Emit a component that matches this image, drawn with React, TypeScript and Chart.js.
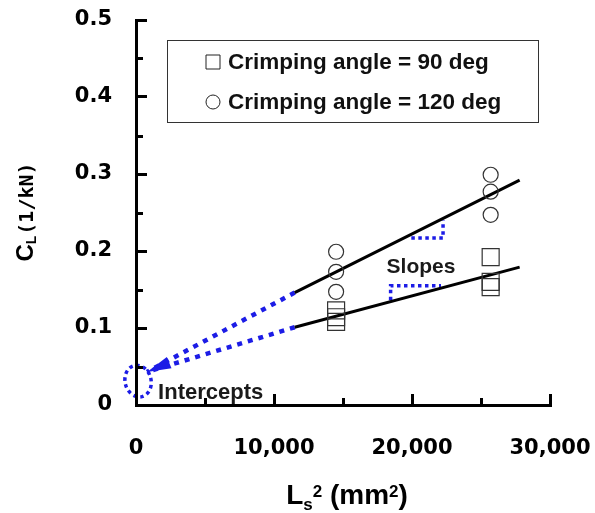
import React, { useEffect, useRef } from 'react';
import { Chart, registerables } from 'chart.js';

Chart.register(...registerables);

// ---- data ----
const seriesLabels = ['Crimping angle = 90 deg', 'Crimping angle = 120 deg'];
const angle90X = [14500, 14500, 14500, 25700, 25700, 25700];
const angle90Y = [0.123, 0.114, 0.108, 0.192, 0.160, 0.153];
const angle120X = [14500, 14500, 14500, 25700, 25700, 25700];
const angle120Y = [0.199, 0.173, 0.147, 0.299, 0.277, 0.247];

const fit90X = [11500, 27800];
const fit90Y = [0.101, 0.179];
const fit120X = [11500, 27800];
const fit120Y = [0.146, 0.292];

const extrap90X = [11500, 800];
const extrap90Y = [0.101, 0.043];
const extrap120X = [11500, 800];
const extrap120Y = [0.146, 0.043];

const slope120X = [19950, 22250, 22250];
const slope120Y = [0.217, 0.217, 0.240];
const slope90X = [18450, 18450, 22100];
const slope90Y = [0.136, 0.155, 0.155];

const interceptMarkX = [150];
const interceptMarkY = [0.031];

const noteTexts = ['Slopes', 'Intercepts'];
const noteX = [20650, 1600];
const noteY = [0.179, 0.016];

const xMin = 0, xMax = 30000, xStep = 5000, xLabelStep = 10000;
const yMin = 0, yMax = 0.5, yStep = 0.05;

const BLUE = '#1c1ce6';

const pts = (xs: number[], ys: number[]) => xs.map((x, i) => ({ x, y: ys[i] }));

const isMajorX = (v: number) => Math.round(v) % xLabelStep === 0;
const isMajorY = (v: number) => Math.round(v * 100) % 10 === 0;

const annotationPlugin = {
  id: 'annotations',
  beforeDraw(chart: any) {
    const { ctx, scales } = chart;
    const xs = scales.x, ys = scales.y;
    // dotted intercept ellipse (under axes)
    ctx.save();
    ctx.strokeStyle = BLUE;
    ctx.lineWidth = 3.5;
    ctx.setLineDash([3.5, 3.5]);
    const cx = xs.getPixelForValue(interceptMarkX[0]);
    const cy = ys.getPixelForValue(interceptMarkY[0]);
    ctx.beginPath();
    ctx.ellipse(cx, cy, 13, 16, -0.25, 0, Math.PI * 2);
    ctx.stroke();
    ctx.restore();
  },
  afterDraw(chart: any) {
    // minor inward tick marks
    const { ctx, scales } = chart;
    const xs = scales.x, ys = scales.y;
    ctx.save();
    ctx.strokeStyle = '#000';
    ctx.lineWidth = 3;
    ctx.beginPath();
    xs.ticks.forEach((t: any) => {
      if (isMajorX(t.value)) return;
      const p = Math.round(xs.getPixelForValue(t.value)) + 0.5;
      ctx.moveTo(p, xs.top);
      ctx.lineTo(p, xs.top - 7);
    });
    ys.ticks.forEach((t: any) => {
      if (isMajorY(t.value)) return;
      const p = Math.round(ys.getPixelForValue(t.value)) + 0.5;
      ctx.moveTo(ys.right, p);
      ctx.lineTo(ys.right + 7, p);
    });
    ctx.stroke();
    ctx.restore();
  },
  afterDatasetsDraw(chart: any) {
    const { ctx, scales } = chart;
    const xs = scales.x, ys = scales.y;

    // arrow head at extrapolation end
    const tipX = xs.getPixelForValue(extrap120X[1]);
    const tipY = ys.getPixelForValue(extrap120Y[1]);
    const sx = (xs.getPixelForValue(extrap120X[0]) + xs.getPixelForValue(extrap90X[0])) / 2;
    const sy = (ys.getPixelForValue(extrap120Y[0]) + ys.getPixelForValue(extrap90Y[0])) / 2;
    const ang = Math.atan2(tipY - sy, tipX - sx);
    const len = 24, hw = 6;
    ctx.save();
    ctx.fillStyle = BLUE;
    ctx.beginPath();
    ctx.moveTo(tipX, tipY);
    ctx.lineTo(tipX - len * Math.cos(ang) - hw * Math.sin(ang), tipY - len * Math.sin(ang) + hw * Math.cos(ang));
    ctx.lineTo(tipX - len * Math.cos(ang) + hw * Math.sin(ang), tipY - len * Math.sin(ang) - hw * Math.cos(ang));
    ctx.closePath();
    ctx.fill();
    ctx.restore();

    // note texts
    ctx.save();
    ctx.fillStyle = '#1a1a1a';
    ctx.textBaseline = 'middle';
    ctx.font = 'bold 21px "Liberation Sans", Arial, sans-serif';
    ctx.textAlign = 'center';
    ctx.fillText(noteTexts[0], xs.getPixelForValue(noteX[0]), ys.getPixelForValue(noteY[0]));
    ctx.font = 'bold 22px "Liberation Sans", Arial, sans-serif';
    ctx.textAlign = 'left';
    ctx.fillText(noteTexts[1], xs.getPixelForValue(noteX[1]), ys.getPixelForValue(noteY[1]));
    ctx.restore();

    // legend box
    ctx.save();
    ctx.strokeStyle = '#333';
    ctx.lineWidth = 1;
    ctx.strokeRect(167.5, 40.5, 371, 82);
    const ds = chart.data.datasets.filter((d: any) => d.inLegend);
    ds.forEach((d: any, i: number) => {
      const my = 62 + i * 40;
      const mx = 213;
      ctx.strokeStyle = '#222';
      ctx.lineWidth = 1;
      ctx.beginPath();
      if (d.pointStyle === 'rect') {
        ctx.rect(mx - 7, my - 7, 14, 14);
      } else {
        ctx.arc(mx, my, 7, 0, Math.PI * 2);
      }
      ctx.stroke();
      ctx.fillStyle = '#111';
      ctx.font = 'bold 22.5px "Liberation Sans", Arial, sans-serif';
      ctx.textAlign = 'left';
      ctx.textBaseline = 'middle';
      ctx.fillText(d.label, 228, my + 1);
    });
    ctx.restore();

    // y axis title  C_L(1/kN)
    ctx.save();
    ctx.fillStyle = '#000';
    ctx.translate(33, 212);
    ctx.rotate(-Math.PI / 2);
    ctx.textBaseline = 'alphabetic';
    ctx.textAlign = 'left';
    const fC = 'bold 24px "Liberation Sans", Arial, sans-serif';
    const fL = 'bold 14px "Liberation Sans", Arial, sans-serif';
    const fR = 'bold 20px "DejaVu Sans Mono", monospace';
    ctx.font = fC; const wC = ctx.measureText('C').width;
    ctx.font = fL; const wL = ctx.measureText('L').width;
    ctx.font = fR; const wR = ctx.measureText('(1/kN)').width;
    let px = -(wC + wL + 1 + wR) / 2;
    ctx.font = fC; ctx.fillText('C', px, 0); px += wC;
    ctx.font = fL; ctx.fillText('L', px, 3); px += wL + 1;
    ctx.font = fR; ctx.fillText('(1/kN)', px, 0);
    ctx.restore();

    // x axis title  L_s^2 (mm^2)
    ctx.save();
    ctx.fillStyle = '#000';
    ctx.textBaseline = 'alphabetic';
    ctx.textAlign = 'left';
    const big = 'bold 28px "Liberation Sans", Arial, sans-serif';
    const small = 'bold 17px "Liberation Sans", Arial, sans-serif';
    const parts: [string, string, number][] = [
      ['L', big, 0], ['s', small, 6], ['2', small, -7], [' (mm', big, 0], ['2', small, -7], [')', big, 0],
    ];
    let total = 0;
    parts.forEach(([t, f]) => { ctx.font = f; total += ctx.measureText(t).width; });
    let tx = 347 - total / 2;
    const base = 504;
    parts.forEach(([t, f, dy]) => {
      ctx.font = f;
      ctx.fillText(t, tx, base + dy);
      tx += ctx.measureText(t).width;
    });
    ctx.restore();
  },
};

export default function App() {
  const ref = useRef<HTMLCanvasElement | null>(null);

  useEffect(() => {
    if (!ref.current) return;
    const tickFont = { family: '"DejaVu Sans", Verdana, sans-serif', weight: 'bold' as const, size: 21 };
    const dotted = (label: string, xs: number[], ys: number[], w: number, dash: number[]) => ({
      label,
      data: pts(xs, ys),
      showLine: true,
      pointRadius: 0,
      borderColor: BLUE,
      borderWidth: w,
      borderDash: dash,
      borderJoinStyle: 'miter',
    });
    const solid = (label: string, xs: number[], ys: number[]) => ({
      label,
      data: pts(xs, ys),
      showLine: true,
      pointRadius: 0,
      borderColor: '#000',
      borderWidth: 3,
    });
    const chart = new Chart(ref.current, {
      type: 'scatter',
      data: {
        datasets: [
          {
            label: seriesLabels[0],
            inLegend: true,
            data: pts(angle90X, angle90Y),
            pointStyle: 'rect',
            pointRadius: 12,
            borderColor: '#333',
            borderWidth: 1.2,
            backgroundColor: 'rgba(0,0,0,0)',
            showLine: false,
          } as any,
          {
            label: seriesLabels[1],
            inLegend: true,
            data: pts(angle120X, angle120Y),
            pointStyle: 'circle',
            pointRadius: 7.5,
            borderColor: '#333',
            borderWidth: 1.2,
            backgroundColor: 'rgba(0,0,0,0)',
            showLine: false,
          } as any,
          solid('fit90', fit90X, fit90Y),
          solid('fit120', fit120X, fit120Y),
          dotted('extrap90', extrap90X, extrap90Y, 4.5, [5, 6]),
          dotted('extrap120', extrap120X, extrap120Y, 4.5, [5, 6]),
          dotted('slope90', slope90X, slope90Y, 3.5, [3.5, 3.5]),
          dotted('slope120', slope120X, slope120Y, 3.5, [3.5, 3.5]),
        ] as any,
      },
      options: {
        animation: false,
        responsive: false,
        devicePixelRatio: 1,
        layout: { padding: { left: 0, top: 20, right: 45, bottom: 0 } },
        plugins: { legend: { display: false }, tooltip: { enabled: false } },
        scales: {
          x: {
            type: 'linear',
            min: xMin,
            max: xMax,
            afterFit: (s: any) => { s.height = 108; s.paddingLeft = 0; s.paddingRight = 0; },
            ticks: {
              stepSize: xStep,
              autoSkip: false,
              maxRotation: 0,
              padding: 42,
              color: '#000',
              font: tickFont,
              callback: (v: any) => (isMajorX(Number(v)) ? Number(v).toLocaleString('en-US') : ''),
            },
            grid: {
              drawOnChartArea: false, drawTicks: true, tickLength: -11, tickWidth: 3,
              tickColor: (c: any) => (c.tick && isMajorX(c.tick.value) ? '#000' : 'rgba(0,0,0,0)'),
              lineWidth: 3, color: '#000',
            },
            border: { display: true, width: 3, color: '#000' },
          },
          y: {
            type: 'linear',
            min: yMin,
            max: yMax,
            afterFit: (s: any) => { s.width = 136; s.paddingTop = 0; s.paddingBottom = 0; },
            ticks: {
              stepSize: yStep,
              autoSkip: false,
              padding: 35,
              color: '#000',
              font: tickFont,
              callback: (v: any) => {
                const t = Math.round(Number(v) * 100);
                if (t % 10 !== 0) return '';
                return t === 0 ? '0' : (t / 100).toFixed(1);
              },
            },
            grid: {
              drawOnChartArea: false, drawTicks: true, tickLength: -11, tickWidth: 3,
              tickColor: (c: any) => (c.tick && isMajorY(c.tick.value) ? '#000' : 'rgba(0,0,0,0)'),
              lineWidth: 3, color: '#000',
            },
            border: { display: true, width: 3, color: '#000' },
          },
        },
      } as any,
      plugins: [annotationPlugin],
    });
    return () => chart.destroy();
  }, []);

  return (
    <div style={{ position: 'absolute', left: 0, top: 0, width: 595, height: 513, background: '#fff' }}>
      <canvas ref={ref} width={595} height={513} style={{ display: 'block' }} />
    </div>
  );
}
